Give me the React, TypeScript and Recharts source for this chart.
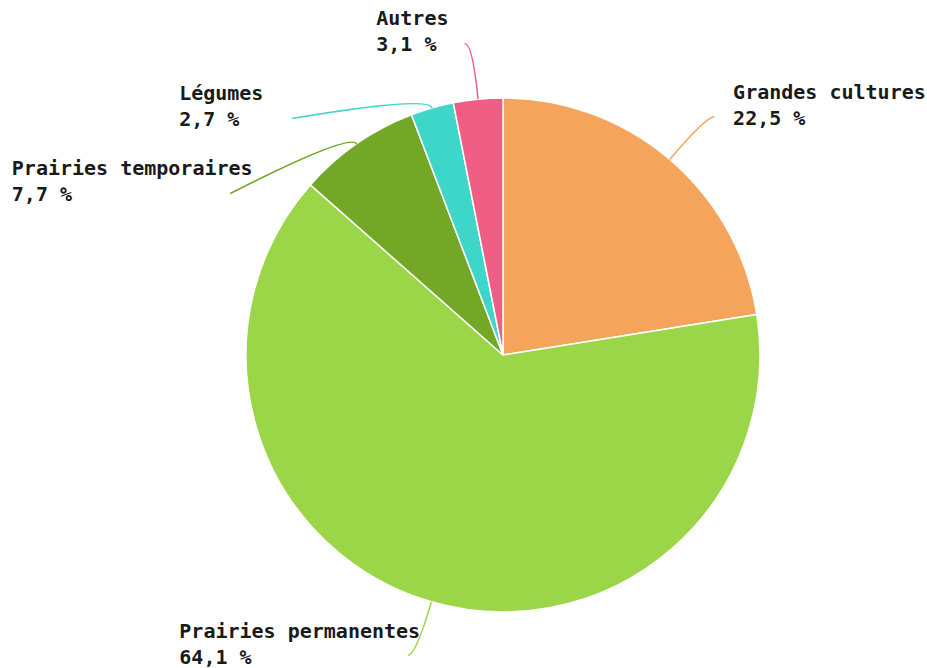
import { PieChart, Pie, Cell } from 'recharts';

const categories = ['Grandes cultures', 'Prairies permanentes', 'Prairies temporaires', 'Légumes', 'Autres'];
const shares = [22.5, 64.1, 7.7, 2.7, 3.1];
const shareLabels = ['22,5 %', '64,1 %', '7,7 %', '2,7 %', '3,1 %'];
const colors = ['#F5A45C', '#9BD648', '#72A826', '#3ED6C8', '#F05E85'];

const data = categories.map((name, i) => ({ name, value: shares[i], label: shareLabels[i] }));

const W = 927;
const H = 668;
const CX = 503;
const CY = 355;
const R = 257;
const LABEL_R = 313;
const MIN_GAP = 75;
const RAD = Math.PI / 180;
const FONT = 'bold 20px "DejaVu Sans Mono", monospace';

// mid angles, clockwise from 12 o'clock, same as the pie (90 -> -270)
const total = shares.reduce((a, b) => a + b, 0);
const mids: number[] = [];
{
  let acc = 0;
  shares.forEach((v) => {
    mids.push(((acc + v / 2) / total) * 360);
    acc += v;
  });
}

// ideal label ends then a simple push-down pass per side
type End = { x: number; y: number; shifted: boolean; right: boolean };
const ends: End[] = mids.map((a) => {
  const s = Math.sin(a * RAD);
  const c = Math.cos(a * RAD);
  const right = s >= 0;
  return {
    x: CX + LABEL_R * s + (right ? 8 : -8),
    y: CY - LABEL_R * c,
    shifted: false,
    right,
  };
});
[true, false].forEach((side) => {
  const idx = ends.map((e, i) => i).filter((i) => ends[i].right === side).sort((a, b) => ends[a].y - ends[b].y);
  for (let k = 1; k < idx.length; k++) {
    const prev = ends[idx[k - 1]];
    const cur = ends[idx[k]];
    if (cur.y - prev.y < MIN_GAP) {
      cur.y = prev.y + MIN_GAP;
      const dy = CY - cur.y;
      const dx = Math.sqrt(Math.max(0, (LABEL_R + 4) ** 2 - dy * dy));
      cur.x = side ? CX + dx : CX - dx;
      cur.shifted = true;
    }
  }
});

let ctx: CanvasRenderingContext2D | null = null;
const measure = (t: string) => {
  if (!ctx) ctx = document.createElement('canvas').getContext('2d');
  if (!ctx) return t.length * 10;
  ctx.font = 'bold 20px "Liberation Sans", Arial, sans-serif';
  return ctx.measureText(t).width;
};

const renderLabel = (props: any) => {
  const { index } = props;
  const e = ends[index];
  const a = mids[index];
  const s = Math.sin(a * RAD);
  const c = Math.cos(a * RAD);
  const p1 = { x: CX + R * s, y: CY - R * c };
  const ctrlR = e.shifted ? R + 13 : LABEL_R;
  const ctrl = { x: CX + ctrlR * s, y: CY - ctrlR * c };
  const name = categories[index];
  const tx = e.right ? e.x + 19 : e.x - 25 - measure(name);
  return (
    <g key={`lbl-${index}`}>
      <path
        d={`M${p1.x},${p1.y} Q${ctrl.x},${ctrl.y} ${e.x},${e.y}`}
        stroke={colors[index]}
        strokeWidth={1.5}
        fill="none"
      />
      <text x={tx} y={e.y - 18} fill="#1a1a1a" style={{ font: FONT }}>
        {name}
      </text>
      <text x={tx} y={e.y + 8} fill="#1a1a1a" style={{ font: FONT }}>
        {shareLabels[index]}
      </text>
    </g>
  );
};

export default function App() {
  return (
    <div style={{ position: 'absolute', left: 0, top: 0, width: W, height: H, background: '#fff' }}>
      <PieChart width={W} height={H} margin={{ top: 0, right: 0, bottom: 0, left: 0 }}>
        <Pie
          data={data}
          dataKey="value"
          nameKey="name"
          cx={CX}
          cy={CY}
          outerRadius={R}
          startAngle={90}
          endAngle={-270}
          stroke="#fff"
          strokeWidth={1.5}
          label={renderLabel}
          labelLine={false}
          isAnimationActive={false}
        >
          {data.map((d, i) => (
            <Cell key={d.name} fill={colors[i]} />
          ))}
        </Pie>
      </PieChart>
    </div>
  );
}
